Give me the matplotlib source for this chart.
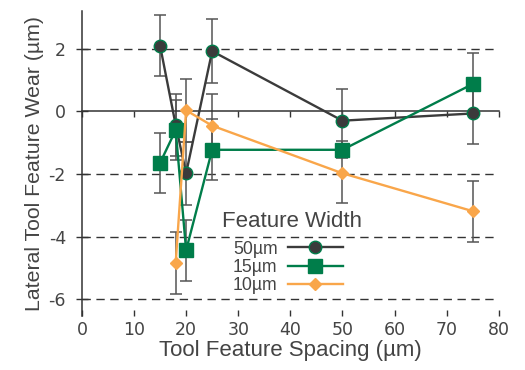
import matplotlib
matplotlib.use("Agg")
import matplotlib.pyplot as plt

# ----------------------------------------
# Lateral tool feature wear vs feature spacing
# ----------------------------------------

spacing_50 = [15, 18, 20, 25, 50, 75]
wear_50 = [2.10, -0.44, -1.98, 1.92, -0.30, -0.07]
err_50 = [0.98, 1.00, 1.00, 1.03, 1.00, 0.97]

spacing_15 = [15, 18, 20, 25, 50, 75]
wear_15 = [-1.65, -0.60, -4.44, -1.23, -1.23, 0.87]
err_15 = [0.96, 0.95, 0.98, 0.97, 0.27, 1.00]

spacing_10 = [18, 20, 25, 50, 75]
wear_10 = [-4.84, 0.03, -0.46, -1.98, -3.19]
err_10 = [1.00, 1.00, 1.00, 0.94, 0.97]

labels = ["50µm", "15µm", "10µm"]
x_ticks = [0, 10, 20, 30, 40, 50, 60, 70, 80]
y_ticks = [-6, -4, -2, 0, 2]

DARK = "#3b3b3b"
GREEN = "#007d4a"
ORANGE = "#f9a64a"
ERR = "#555555"
TEXT = "#444444"
LABEL_FONT = "Liberation Sans"

plt.rcParams["axes.unicode_minus"] = False

fig = plt.figure(figsize=(5.25, 3.7), dpi=100)
ax = fig.add_axes([0.156, 0.145, 0.794, 0.825])

# dashed reference lines
for yv in [-6, -4, -2, 2]:
    ax.axhline(yv, color="#333333", lw=1.0, dashes=(6, 4), zorder=1)

series = [
    (spacing_50, wear_50, err_50, DARK, "o", 9, labels[0]),
    (spacing_15, wear_15, err_15, GREEN, "s", 10, labels[1]),
    (spacing_10, wear_10, err_10, ORANGE, "D", 6.5, labels[2]),
]

# error bars underneath
for xs, ys, es, col, mk, ms, lab in series:
    ax.errorbar(xs, ys, yerr=es, fmt="none", ecolor=ERR, elinewidth=1.1,
                capsize=4, capthick=1.1, zorder=2)

handles = []
for xs, ys, es, col, mk, ms, lab in series:
    mec = GREEN if mk == "o" else col
    h, = ax.plot(xs, ys, color=col, lw=1.7, marker=mk, markersize=ms,
                 markerfacecolor=col, markeredgecolor=mec, markeredgewidth=1.0,
                 label=lab, zorder=3)
    handles.append(h)

ax.set_xlim(0, 80)
ax.set_ylim(-6.55, 3.2)

# spines: x axis sits on y = 0, no top / right
ax.spines["top"].set_visible(False)
ax.spines["right"].set_visible(False)
ax.spines["bottom"].set_position(("data", 0))
ax.spines["bottom"].set_color("#333333")
ax.spines["left"].set_color("#333333")
ax.spines["bottom"].set_linewidth(1.1)
ax.spines["left"].set_linewidth(1.1)

ax.set_xticks(x_ticks)
ax.tick_params(axis="x", direction="out", length=4, width=1, color="#333333",
               labelbottom=False)
ax.set_yticks(y_ticks)
ax.tick_params(axis="y", direction="inout", length=9, width=1,
               color="#333333", labelsize=12.5, labelcolor=TEXT, pad=7)

# tick labels along the bottom
sec = ax.secondary_xaxis("bottom")
sec.spines["bottom"].set_visible(False)
sec.set_xticks(x_ticks)
sec.tick_params(direction="in", length=4, width=1, color="#333333",
                labelsize=12.5, labelcolor=TEXT, pad=3)
sec.set_xlabel("Tool Feature Spacing (µm)", fontsize=16, color=TEXT,
               family=LABEL_FONT, labelpad=1)

ax.set_ylabel("Lateral Tool Feature Wear (µm)", fontsize=15.3,
              color=TEXT, family=LABEL_FONT, labelpad=3)

# legend title drawn separately so its gap can be set
ax.text(0.504, 0.31, "Feature Width", transform=ax.transAxes,
        ha="center", va="center", fontsize=16, color=TEXT, family=LABEL_FONT)
leg = ax.legend(handles=handles, loc="upper left",
                bbox_to_anchor=(0.362, 0.248), frameon=False, markerfirst=False,
                handlelength=3.1, handletextpad=0.6, labelspacing=0.06,
                borderpad=0.0, borderaxespad=0.0,
                prop={"family": LABEL_FONT, "size": 12.7})
for t in leg.get_texts():
    t.set_color(TEXT)

fig.savefig("out.png", dpi=100)
